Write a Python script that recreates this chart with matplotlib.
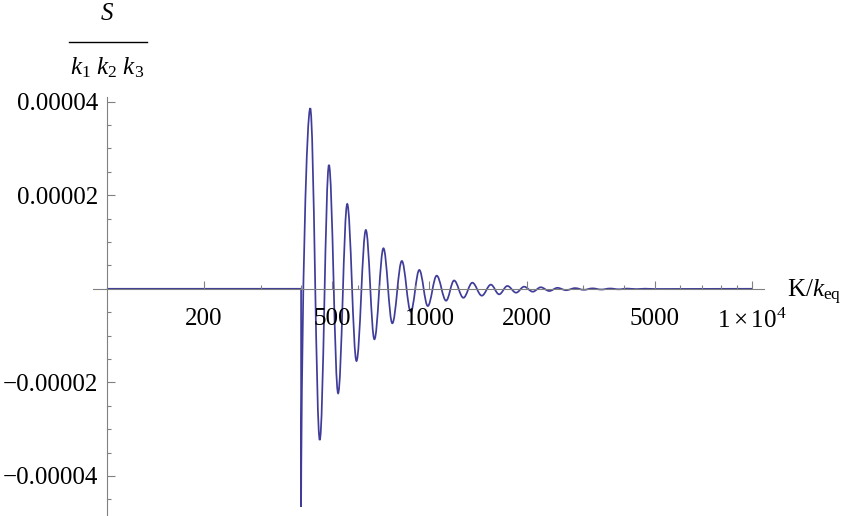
import numpy as np
import matplotlib
matplotlib.use("Agg")
import matplotlib.pyplot as plt
from matplotlib.path import Path
from matplotlib.patches import PathPatch
from matplotlib.lines import Line2D
from matplotlib.ticker import FixedLocator, FixedFormatter, NullFormatter

plt.rcParams['font.family'] = ['Liberation Serif', 'DejaVu Serif']
plt.rcParams['mathtext.fontset'] = 'custom'
plt.rcParams['mathtext.rm'] = 'Liberation Serif'
plt.rcParams['mathtext.it'] = 'Liberation Serif:italic'

# data
k_start, k_cut, k_end = 100, 400, 10000
# extrema of the oscillation (K/k_eq)
k_ext = [400, 427, 457, 488, 521, 556, 594, 635, 675, 720, 767, 821, 875, 930,
         988, 1053, 1126, 1192, 1274, 1358, 1453, 1550, 1644, 1744, 1856, 1965,
         2091, 2213, 2353, 2493, 2652, 2829, 3010, 3200, 3410, 3630, 3860, 4110,
         4380, 4660, 4960]
# S/(k1 k2 k3) at those extrema, in units of 1e-5
s_ext = [-4.656, 3.857, -3.231, 2.645, -2.233, 1.812, -1.543, 1.256, -1.079,
         0.865, -0.737, 0.594, -0.489, 0.402, -0.368, 0.280, -0.254, 0.177,
         -0.192, 0.130, -0.147, 0.088, -0.118, 0.060, -0.083, 0.045, -0.062,
         0.032, -0.047, 0.020, -0.030, 0.014, -0.022, 0.009, -0.016, 0.006,
         -0.011, 0.004, -0.007, 0.002, -0.004]

x_major = [200, 500, 1000, 2000, 5000, 10000]
x_labels = ["200", "500", "1000", "2000", "5000", r"$1\times10^{4}$"]
x_minor = [300, 400, 600, 700, 800, 900, 3000, 4000, 6000, 7000, 8000, 9000]
y_major = [-4e-5, -2e-5, 2e-5, 4e-5]
y_labels = ["\u22120.00004", "\u22120.00002", "0.00002", "0.00004"]
y_minor = [-4.5e-5, -3.5e-5, -3e-5, -2.5e-5, -1.5e-5, -1e-5, -0.5e-5,
           0.5e-5, 1e-5, 1.5e-5, 2.5e-5, 3e-5, 3.5e-5]

W, H = 843, 516
fs = 18
fig = plt.figure(figsize=(W / 100, H / 100), dpi=100)
ax = fig.add_axes([93 / W, 0, (764 - 93) / W, (516 - 97) / H])
ax.set_xscale('log')
ax.set_xlim(10 ** 1.957, 10 ** 4.037)
ax.set_ylim(-4.855e-5, 4.098e-5)

# curve: flat part, jump at the cut, then smooth arcs between the extrema
s = np.array(s_ext) * 1e-5
lk = np.log10(k_ext)
verts = [(k_start, 0), (k_cut, 0), (k_ext[0], s[0])]
codes = [Path.MOVETO, Path.LINETO, Path.LINETO]
for i in range(len(k_ext) - 1):
    d = lk[i + 1] - lk[i]
    c1 = (10 ** (lk[i] + 0.364 * d), s[i]) if i > 0 else (10 ** (lk[0] + 0.08 * d), 0.0)
    c2 = (10 ** (lk[i + 1] - 0.364 * d), s[i + 1])
    verts += [c1, c2, (k_ext[i + 1], s[i + 1])]
    codes += [Path.CURVE4] * 3
verts.append((k_end, 0))
codes.append(Path.LINETO)
ax.add_patch(PathPatch(Path(verts, codes), facecolor='none',
                       edgecolor='#3f3d99', lw=1.25, capstyle='butt'))

axis_col = '#808080'
for side in ['top', 'right']:
    ax.spines[side].set_visible(False)
ax.spines['left'].set_position(('data', 100))
ax.spines['bottom'].set_position(('data', 0))
for side in ['left', 'bottom']:
    ax.spines[side].set_color(axis_col)
    ax.spines[side].set_linewidth(0.8)

ax.xaxis.set_major_locator(FixedLocator(x_major))
ax.xaxis.set_major_formatter(FixedFormatter(x_labels))
ax.xaxis.set_minor_locator(FixedLocator(x_minor))
ax.xaxis.set_minor_formatter(NullFormatter())
ax.yaxis.set_major_locator(FixedLocator(y_major))
ax.yaxis.set_major_formatter(FixedFormatter(y_labels))
ax.yaxis.set_minor_locator(FixedLocator(y_minor))

ax.tick_params(which='both', direction='in', color=axis_col, width=0.8,
               labelsize=fs, labelcolor='black')
ax.tick_params(which='major', length=5.5)
ax.tick_params(which='minor', length=3)
ax.tick_params(axis='x', which='major', pad=14)
ax.tick_params(axis='y', which='major', pad=6)

# axis labels
fig.text(107 / W, 1 - 14 / H, r'$S$', ha='center', va='center', fontsize=fs)
fig.add_artist(Line2D([69 / W, 147 / W], [1 - 42 / H] * 2, color='black', lw=1.0))
fig.text(107 / W, 1 - 68 / H, r'$k_1\ k_2\ k_3$', ha='center', va='center', fontsize=fs)
fig.text(787 / W, 1 - 297 / H, r'$\mathrm{K}/k_{\mathrm{eq}}$', ha='left',
         va='baseline', fontsize=fs)

fig.savefig('out.png', dpi=100)
